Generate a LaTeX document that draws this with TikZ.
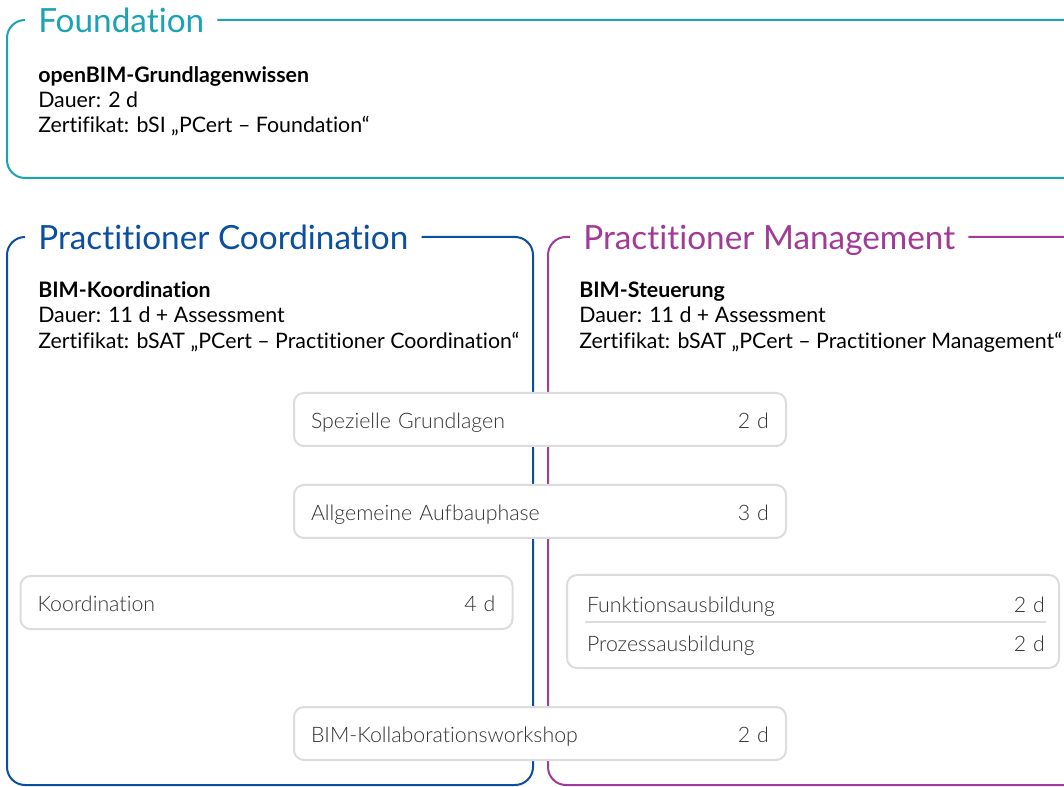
\documentclass[tikz,border=0pt]{standalone}
\usepackage{fontspec}
\setmainfont{Lato}[Ligatures={NoCommon}]
\newfontfamily\lightfont{Lato Light}[Ligatures={NoCommon}]
\usetikzlibrary{positioning}
\definecolor{foundColor}{HTML}{1BA3B3}
\definecolor{coordColor}{HTML}{0A4FA0}
\definecolor{mgmtColor}{HTML}{A23B98}
\definecolor{moduleLine}{HTML}{DCDCDC}
\definecolor{moduleText}{HTML}{333333}

\begin{document}
\begin{tikzpicture}[x=0.75pt,y=-0.75pt]

            \tikzstyle{levelTitle} = [anchor=west, inner xsep=9.75pt, inner ysep=0pt, text height=19pt, text depth=0pt, font=\fontsize{25}{30}\selectfont];
            \tikzstyle{frameLine} = [line width=1.5pt, rounded corners=13.5pt];
            \tikzstyle{infoText} = [anchor=base west, inner sep=0pt, font=\fontsize{16}{19}\selectfont];
            \tikzstyle{moduleBox} = [draw=moduleLine, line width=1.5pt, fill=white, rounded corners=7.5pt, minimum width=369pt, minimum height=39.75pt];
            \tikzstyle{moduleRow} = [text width=343.5pt, inner sep=0pt, text height=18pt, text depth=3.8pt, text=moduleText, font=\lightfont\fontsize{16}{19}\selectfont];

            \useasboundingbox (0,0) rectangle (1064,787);
            \clip (0,0) rectangle (1064,787);

            % frames
            \node[levelTitle, text=foundColor] (foundTitle) at (25,20) {Foundation};
            \node[levelTitle, text=coordColor] (coordTitle) at (25,237) {Practitioner Coordination};
            \node[levelTitle, text=mgmtColor] (mgmtTitle) at (570,237) {Practitioner Management};

            \draw[frameLine, foundColor] (foundTitle.east) -- (1090,20) -- (1090,178) -- (7,178) -- (7,20) -- (foundTitle.west);
            \draw[frameLine, coordColor] (coordTitle.east) -- (533,237) -- (533,785) -- (7,785) -- (7,237) -- (coordTitle.west);
            \draw[frameLine, mgmtColor] (mgmtTitle.east) -- (1090,237) -- (1090,785) -- (548,785) -- (548,237) -- (mgmtTitle.west);

            \node[infoText] (foundName) at (38,82.5) {\textbf{openBIM-Grundlagenwissen}};
            \node[infoText] (foundDur) at (38,107.5) {Dauer: 2 d};
            \node[infoText] (foundCert) at (38,132.5) {Zertifikat: bSI „PCert – Foundation“};

            \node[infoText] (coordName) at (38,298) {\textbf{BIM-Koordination}};
            \node[infoText] (coordDur) at (38,323) {Dauer: 11 d + Assessment};
            \node[infoText] (coordCert) at (38,348.5) {Zertifikat: bSAT „PCert – Practitioner Coordination“};

            \node[infoText] (mgmtName) at (579,298) {\textbf{BIM-Steuerung}};
            \node[infoText] (mgmtDur) at (579,323) {Dauer: 11 d + Assessment};
            \node[infoText] (mgmtCert) at (579,348.5) {Zertifikat: bSAT „PCert – Practitioner Management“};

            % modules
            \node[moduleBox] (specBox) at (540,419.5) {};
            \node[moduleRow] (spec) at (540,419.5) {Spezielle Grundlagen\hfill 2 d};
            \node[moduleBox] (generalBox) at (540,511.5) {};
            \node[moduleRow] (general) at (540,511.5) {Allgemeine Aufbauphase\hfill 3 d};
            \node[moduleBox] (coordBox) at (266.5,602.5) {};
            \node[moduleRow] (coord) at (266.5,602.5) {Koordination\hfill 4 d};
            \node[moduleBox, minimum height=69.75pt] (mgmtBox) at (813,621.5) {};
            \node[moduleRow] (function) at (816,603.5) {Funktionsausbildung\hfill 2 d};
            \node[moduleRow] (process) at (816,642.5) {Prozessausbildung\hfill 2 d};
            \coordinate (sepL) at (585,622);
            \coordinate (sepR) at (1046,622);
            \draw[moduleLine, line width=1.5pt] (sepL) -- (sepR);
            \node[moduleBox] (workshopBox) at (540,733.5) {};
            \node[moduleRow] (workshop) at (540,733.5) {BIM-Kollaborationsworkshop\hfill 2 d};
          \end{tikzpicture}
\end{document}
